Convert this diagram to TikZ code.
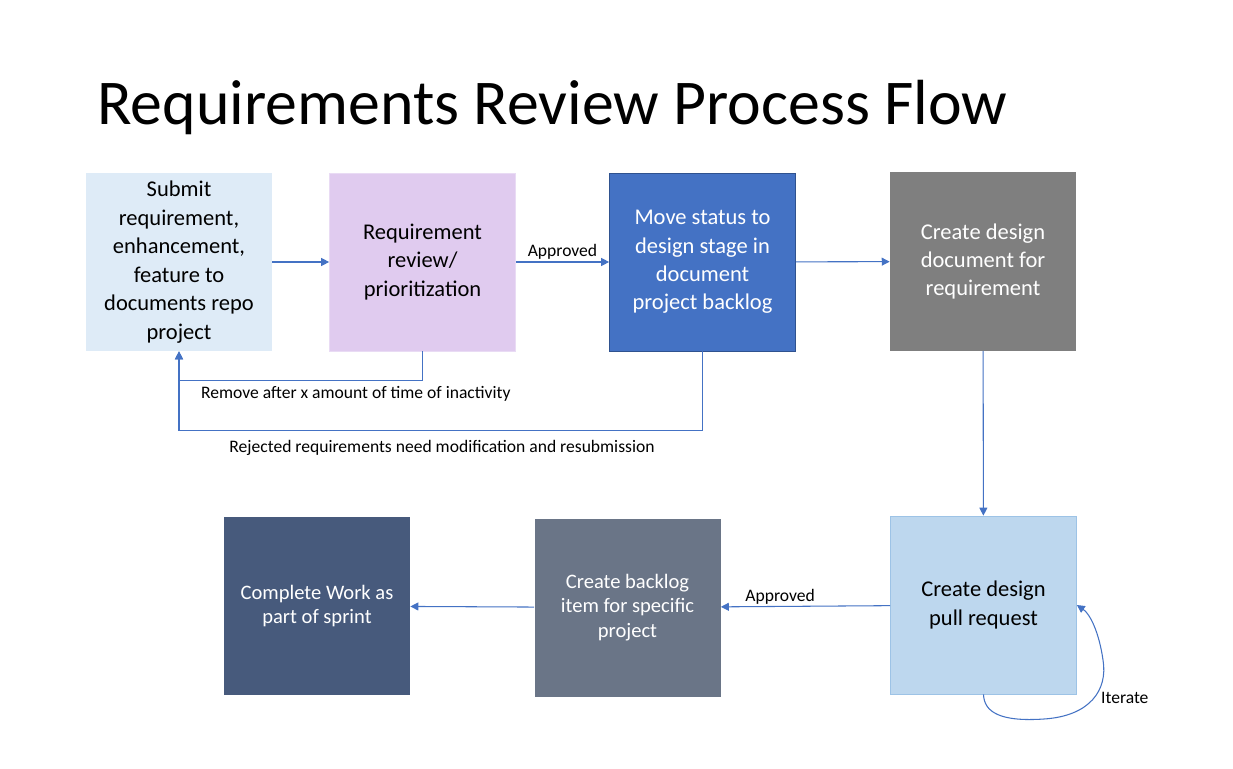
\documentclass[tikz,border=0pt]{standalone}
\usepackage{fontspec}
\setmainfont{Carlito}
\usetikzlibrary{arrows.meta}

\definecolor{flowblue}{HTML}{4472C4}
\definecolor{submitfill}{HTML}{DEEBF7}
\definecolor{reviewfill}{HTML}{E0CBEF}
\definecolor{movefill}{HTML}{4472C4}
\definecolor{moveline}{HTML}{2F528F}
\definecolor{docfill}{HTML}{7F7F7F}
\definecolor{pullfill}{HTML}{BDD7EE}
\definecolor{pullline}{HTML}{9DC3E6}
\definecolor{backlogfill}{HTML}{6A7587}
\definecolor{sprintfill}{HTML}{475A7C}

\tikzset{
	stepbox/.style={minimum width=37.2mm,minimum height=35.6mm,inner sep=0pt,align=center,
		font=\fontsize{12.8}{16.2}\selectfont},
	smallbox/.style={stepbox,font=\fontsize{11.7}{14}\selectfont},
	flow/.style={draw=flowblue,line width=0.6pt,-{Triangle[length=4.5pt,width=4.5pt]}},
	flowlabel/.style={font=\fontsize{10}{12}\selectfont,inner sep=1pt}
}

\begin{document}
\begin{tikzpicture}[x=0.2mm,y=-0.2mm]
	\useasboundingbox[fill=white] (0,0) rectangle (1233,769);
	% title
	\node[anchor=base west,inner sep=0pt,font=\fontsize{36.3}{40}\selectfont] (title) at (97,125) {Requirements Review Process Flow};
	% top row
	\node[stepbox,fill=submitfill] (submit) at (179,262) {Submit\\requirement,\\enhancement,\\feature to\\documents repo\\project};
	\node[stepbox,fill=reviewfill,draw=reviewfill!70!white] (review) at (422.5,262) {Requirement\\review/\\prioritization};
	\node[stepbox,fill=movefill,draw=moveline,text=white] (move) at (702.5,262) {Move status to\\design stage in\\document\\project backlog};
	\node[stepbox,fill=docfill,text=white] (designdoc) at (983,261.5) {Create design\\document for\\requirement};
	% bottom row
	\node[stepbox,fill=pullfill,draw=pullline] (pullreq) at (983.5,605) {Create design\\pull request};
	\node[smallbox,fill=backlogfill,text=white] (backlog) at (627.5,607.5) {Create backlog\\item for specific\\project};
	\node[smallbox,fill=sprintfill,text=white] (sprint) at (317,606) {Complete Work as\\part of sprint};
	% connectors
	\draw[flow] (submit) -- (review);
	\draw[flow] (review) -- node[flowlabel,above] (approved1) {Approved} (move);
	\draw[flow] (move) -- (designdoc);
	\draw[flow] (designdoc) -- (pullreq);
	\draw[flow] (pullreq) -- node[flowlabel,above,pos=0.65] (approved2) {Approved} (backlog);
	\draw[flow] (backlog) -- (sprint);
	\draw[flow] (review.south) -- ++(0,29) -| (submit.south);
	\draw[flow] (move.south) -- ++(0,79) -| (submit.south);
	\draw[flow] (pullreq.south) .. controls (984,712) and (1000,722) .. (1044,719)
		.. controls (1090,716) and (1108,690) .. (1103,660)
		.. controls (1099,632) and (1090,614) .. (pullreq.east);
	% loop labels
	\node[flowlabel,anchor=west] (removelbl) at (199,394) {Remove after x amount of time of inactivity};
	\node[flowlabel] (rejectlbl) at (442,448) {Rejected requirements need modification and resubmission};
	\node[flowlabel,anchor=west] (iteratelbl) at (1099,698) {Iterate};
\end{tikzpicture}
\end{document}
